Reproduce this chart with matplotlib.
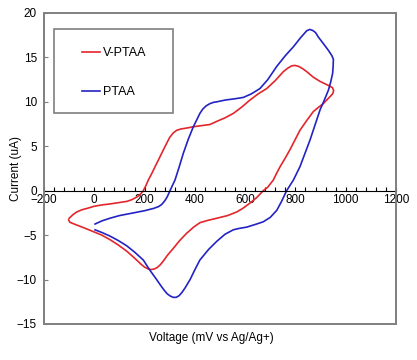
import matplotlib
matplotlib.use("Agg")
import matplotlib.pyplot as plt
from matplotlib.patches import Rectangle
from matplotlib.ticker import MultipleLocator

plt.rcParams['font.family'] = ['Liberation Sans', 'DejaVu Sans']

# V-PTAA loop (mV, uA)
vptaa_v = [-100, -85, -70, -50, -30, 0, 30, 60, 95, 130, 150, 170, 185, 195, 205, 215, 228, 240, 261,
           280, 300, 314, 328, 345, 367, 395, 420, 460, 487, 520, 553, 586, 619, 652, 686, 720, 752,
           770, 785, 798, 812, 828, 845, 870, 898, 920, 935, 947, 952, 949, 940, 926, 911, 890, 871,
           845, 818, 798, 778, 758, 739, 725, 712, 690, 672, 645, 619, 590, 566, 530, 487, 450, 420,
           395, 367, 340, 314, 290, 275, 262, 250, 238, 226, 214, 200, 185, 170, 155, 129, 95, 62,
           30, -4, -30, -57, -80, -97, -102]
vptaa_i = [-3.1, -2.7, -2.4, -2.15, -2.0, -1.75, -1.6, -1.5, -1.35, -1.2, -1.0, -0.7, -0.35, 0.0, 0.55, 1.2, 1.9, 2.6, 3.8,
           4.9, 6.0, 6.5, 6.8, 6.95, 7.05, 7.2, 7.3, 7.45, 7.8, 8.2, 8.7, 9.4, 10.2, 10.9, 11.5, 12.4, 13.4,
           13.8, 14.05, 14.1, 14.0, 13.75, 13.4, 12.8, 12.3, 12.0, 11.8, 11.6, 11.3, 10.95, 10.65, 10.25, 9.8, 9.35, 8.9,
           7.9, 6.8, 5.7, 4.6, 3.6, 2.7, 1.95, 1.2, 0.4, 0.0, -0.8, -1.4, -2.0, -2.4, -2.8, -3.1, -3.35, -3.6,
           -4.1, -4.8, -5.6, -6.5, -7.3, -7.9, -8.35, -8.65, -8.82, -8.87, -8.8, -8.6, -8.25, -7.85, -7.45, -6.8, -6.1, -5.5,
           -5.0, -4.6, -4.3, -4.0, -3.75, -3.55, -3.3]

# PTAA loop
ptaa_v = [3, 30, 62, 100, 155, 200, 235, 255, 268, 280, 290, 301, 321, 338, 354, 374, 394, 408, 420, 432,
          445, 460, 475, 487, 520, 560, 593, 625, 659, 690, 726, 760, 792, 820, 845, 857, 868, 880, 891,
          910, 931, 945, 951, 950, 948, 940, 931, 915, 898, 878, 858, 838, 818, 792, 765, 745, 726, 700,
          672, 640, 606, 575, 553, 520, 487, 455, 420, 400, 381, 362, 350, 338, 326, 314, 302, 290, 278,
          265, 248, 220, 195, 160, 129, 95, 62, 30, 3]
ptaa_i = [-3.75, -3.4, -3.1, -2.8, -2.5, -2.25, -2.0, -1.8, -1.55, -1.15, -0.7, 0.0, 1.2, 2.7, 4.2, 5.8, 7.2, 8.0, 8.7, 9.2,
          9.55, 9.8, 9.95, 10.0, 10.2, 10.35, 10.5, 10.9, 11.5, 12.5, 14.0, 15.2, 16.2, 17.2, 18.0, 18.15, 18.05, 17.8, 17.3,
          16.6, 15.8, 15.2, 14.8, 14.0, 13.2, 12.2, 11.3, 10.2, 9.1, 7.4, 5.7, 4.2, 2.7, 1.2, 0.0, -1.2, -2.2, -3.0,
          -3.5, -3.8, -4.1, -4.25, -4.4, -4.9, -5.7, -6.6, -7.8, -8.9, -10.0, -10.9, -11.4, -11.8, -12.0, -12.0, -11.85, -11.6, -11.2,
          -10.7, -10.0, -8.9, -7.8, -6.9, -6.2, -5.6, -5.1, -4.7, -4.4]

x_ticks = list(range(-200, 1201, 200))
y_ticks = list(range(-15, 21, 5))

fig = plt.figure(figsize=(4.17, 3.6), dpi=100)
ax = fig.add_axes([0.1055, 0.1, 0.8441, 0.8639])

ax.plot(vptaa_v, vptaa_i, color='#e3262b', lw=1.2, label='V-PTAA', solid_joinstyle='round')
ax.plot(ptaa_v, ptaa_i, color='#2323c4', lw=1.2, label='PTAA', solid_joinstyle='round')

ax.set_xlim(-200, 1200)
ax.set_ylim(-15, 20)
ax.set_xticks(x_ticks)
ax.set_yticks(y_ticks)
ax.xaxis.set_minor_locator(MultipleLocator(40))

# x axis sits on the zero line, grey box around the plot
for s in ['top', 'right', 'left']:
    ax.spines[s].set_visible(False)
ax.spines['bottom'].set_position(('data', 0))
ax.spines['bottom'].set_color('black')
ax.spines['bottom'].set_linewidth(0.8)
ax.add_patch(Rectangle((0, 0), 1, 1, transform=ax.transAxes, fill=False,
                       edgecolor='#7f7f7f', lw=1.4, clip_on=False, zorder=3))

ax.tick_params(axis='x', which='both', direction='in', length=3, width=0.8, pad=2.5,
               labelsize=8.5, color='black')
ax.tick_params(axis='y', direction='in', length=3, width=0.8, pad=5,
               labelsize=8.5, color='#7f7f7f')

ax.set_xlabel('Voltage (mV vs Ag/Ag+)', fontsize=8.5, va='top')
ax.xaxis.set_label_coords(0.476, -0.026)
ax.set_ylabel('Current (uA)', fontsize=8.5)
ax.yaxis.set_label_coords(-0.063, 0.5)

ax.legend(loc='upper left', bbox_to_anchor=(0.108, 0.89), frameon=False, fontsize=9,
          borderpad=0, borderaxespad=0, handlelength=1.44, handletextpad=0.2,
          labelspacing=2.15)
ax.add_patch(Rectangle((0.0284, 0.678), 0.3381, 0.2708, transform=ax.transAxes,
                       fill=False, edgecolor='#7f7f7f', lw=1.2, zorder=3))

fig.savefig('out.png', dpi=100)
